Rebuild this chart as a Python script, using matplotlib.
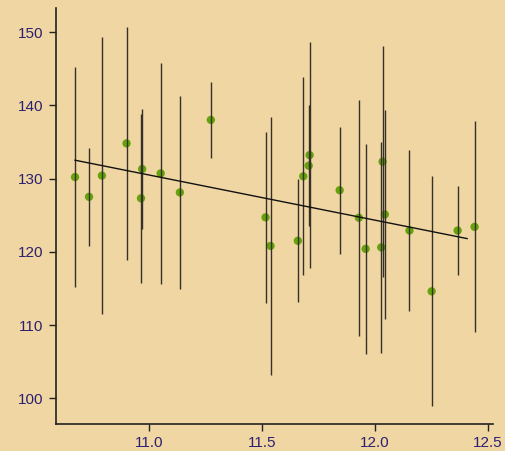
import matplotlib
matplotlib.use("Agg")
import matplotlib.pyplot as plt

# data: x position, point estimate, half-width of interval
x_vals = [10.673, 10.735, 10.792, 10.901, 10.965, 10.970, 11.052, 11.137, 11.274,
          11.516, 11.538, 11.659, 11.683, 11.707, 11.711, 11.844,
          11.929, 11.959, 12.028, 12.034, 12.044, 12.153, 12.251, 12.366, 12.441]
y_vals = [130.2, 127.5, 130.4, 134.8, 127.3, 131.3, 130.7, 128.1, 138.0,
          124.7, 120.8, 121.5, 130.3, 131.75, 133.2, 128.4,
          124.65, 120.4, 120.6, 132.3, 125.1, 122.9, 114.6, 122.9, 123.4]
half_err = [15.05, 6.7, 18.95, 15.9, 11.5, 8.2, 15.05, 13.15, 5.2,
            11.7, 17.65, 8.4, 13.5, 8.3, 15.4, 8.65,
            16.1, 14.3, 14.4, 15.8, 14.3, 11.0, 15.7, 6.1, 14.4]

fit_x = [10.673, 12.408]
fit_y = [132.5, 121.8]

x_ticks = [11.0, 11.5, 12.0, 12.5]
y_ticks = [100, 110, 120, 130, 140, 150]

bg = "#F0D6A2"
label_col = "#2C2070"

plt.rcParams['font.family'] = ['Liberation Sans', 'DejaVu Sans']

fig = plt.figure(figsize=(5.05, 4.51), dpi=100, facecolor=bg)
ax = fig.add_axes([0.1103, 0.0599, 0.976 - 0.1103, 0.9823 - 0.0599])
ax.set_facecolor(bg)

ax.scatter(x_vals, y_vals, s=36, color="#66A20C", edgecolors="none", zorder=2)
lows = [y - e for y, e in zip(y_vals, half_err)]
highs = [y + e for y, e in zip(y_vals, half_err)]
ax.vlines(x_vals, lows, highs, colors="#35302A", linewidth=1.0, zorder=3)
ax.plot(fit_x, fit_y, color="#111111", linewidth=1.0, zorder=4)

ax.set_xlim(10.5875, 12.522)
ax.set_ylim(96.49, 153.28)
ax.set_xticks(x_ticks)
ax.set_xticklabels([f"{v:.1f}" for v in x_ticks])
ax.set_yticks(y_ticks)
ax.set_yticklabels([str(v) for v in y_ticks])

for s in ["top", "right"]:
    ax.spines[s].set_visible(False)
for s in ["left", "bottom"]:
    ax.spines[s].set_color("#222222")
    ax.spines[s].set_linewidth(1.2)

ax.tick_params(axis="both", direction="out", length=5, width=1.0, color="#222222",
               labelsize=11, labelcolor=label_col)
ax.tick_params(axis="x", pad=4)
ax.tick_params(axis="y", pad=4)

fig.savefig("out.png", dpi=100, facecolor=bg)
